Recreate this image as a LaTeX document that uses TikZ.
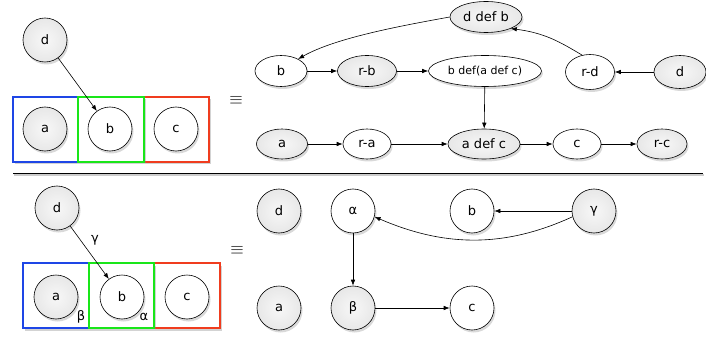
\documentclass[tikz,border=0pt]{standalone}
\usepackage{fontspec}
\setmainfont{DejaVu Sans}
\usetikzlibrary{arrows.meta,shapes.geometric,shadows}

\definecolor{boxblue}{RGB}{30,70,230}
\definecolor{boxgreen}{RGB}{25,230,25}
\definecolor{boxred}{RGB}{240,60,30}

\pgfdeclareradialshading{ballgray}{\pgfpoint{0bp}{0bp}}{%
  color(0bp)=(black!3); color(28bp)=(black!10); color(50bp)=(black!30)}

\tikzset{
  base/.style={draw=black, line width=0.6pt, inner sep=1pt,
    font=\fontsize{13}{15}\selectfont,
    drop shadow={opacity=0.3, shadow xshift=1.5pt, shadow yshift=-2.5pt}},
  gball/.style={base, circle, minimum size=44pt, shading=ballgray},
  wball/.style={base, circle, minimum size=44pt, fill=white},
  gegg/.style={base, ellipse, minimum height=31pt, shading=ballgray},
  wegg/.style={base, ellipse, minimum height=31pt, fill=white},
  frame/.style={line width=1.4pt,
    drop shadow={opacity=0.35, shadow xshift=1.5pt, shadow yshift=-2.5pt}, fill=white},
  link/.style={line width=0.6pt, -{Latex[length=6pt, width=4.5pt]}},
  tag/.style={inner sep=1pt, font=\fontsize{13}{15}\selectfont},
  eqv/.style={font=\LARGE}
}

\begin{document}
\begin{tikzpicture}[x=1pt,y=-1pt]
\useasboundingbox (0,0) rectangle (706,339);

% top left
\draw[frame, draw=boxblue] (13,97) rectangle (78,162);
\draw[frame, draw=boxred] (144,97) rectangle (209,162);
\draw[frame, draw=boxgreen] (78,97) rectangle (144,162);
\node[gball] (d1) at (45,40) {d};
\node[gball] (a1) at (45,129) {a};
\node[wball] (b1) at (110,129) {b};
\node[wball] (c1) at (176,129) {c};
\draw[link] (d1) -- (b1);
\node[eqv] (eq1) at (236,100) {$\equiv$};

% top right
\node[gegg, minimum width=72pt] (tdb) at (486,17) {d def b};
\node[wegg, minimum width=52pt] (tb) at (281,71) {b};
\node[gegg, minimum width=59pt] (trb) at (367,71) {r-b};
\node[wegg, minimum width=113pt, font=\fontsize{11}{13}\selectfont] (tbac) at (485,71) {b def(a def c)};
\node[wegg, minimum width=49pt, minimum height=35pt] (trd) at (590,72) {r-d};
\node[gegg, minimum width=52pt, minimum height=33pt] (td) at (680,72) {d};
\node[gegg, minimum width=51pt, minimum height=30pt] (ta) at (282,144) {a};
\node[wegg, minimum width=48pt, minimum height=30pt] (tra) at (367,144) {r-a};
\node[gegg, minimum width=72pt, minimum height=30pt] (tac) at (484,144) {a def c};
\node[wegg, minimum width=48pt, minimum height=30pt] (tc) at (577,144) {c};
\node[gegg, minimum width=50pt, minimum height=30pt] (trc) at (662,144) {r-c};

\draw[link] (tdb.west) .. controls (400,26) and (335,38) .. (tb.35);
\draw[link] (trd.115) .. controls (560,42) and (545,33) .. (tdb.-25);
\draw[link] (td) -- (trd);
\draw[link] (tb) -- (trb);
\draw[link] (trb) -- (tbac);
\draw[link] (tbac) -- (tac);
\draw[link] (ta) -- (tra);
\draw[link] (tra) -- (tac);
\draw[link] (tac) -- (tc);
\draw[link] (tc) -- (trc);

% separator
\draw[black!20, line width=1.5pt] (14,175) -- (704,175);
\draw[line width=0.8pt] (13,173) -- (703,173);

% bottom left
\draw[frame, draw=boxblue] (23,263) rectangle (89,328);
\draw[frame, draw=boxred] (154,263) rectangle (220,328);
\draw[frame, draw=boxgreen] (89,263) rectangle (154,328);
\node[gball] (d2) at (57,208) {d};
\node[gball] (a2) at (56,297) {a};
\node[wball] (b2) at (122,297) {b};
\node[wball] (c2) at (187,297) {c};
\draw[link] (d2) -- (b2);
\node[tag] (lgam) at (95,240) {γ};
\node[tag] (lbet) at (81,317) {β};
\node[tag] (lalp) at (144,317) {α};
\node[eqv] (eq2) at (237,250) {$\equiv$};

% bottom right
\node[gball] (bd) at (279,211) {d};
\node[wball] (balpha) at (353,211) {α};
\node[wball] (bb) at (472,211) {b};
\node[gball] (bgamma) at (594,211) {γ};
\node[gball] (ba) at (279,308) {a};
\node[gball] (bbeta) at (353,308) {β};
\node[wball] (bc) at (472,308) {c};

\draw[link] (bgamma) -- (bb);
\draw[link] (bgamma.195) .. controls (500,250) and (440,245) .. (balpha.-15);
\draw[link] (balpha) -- (bbeta);
\draw[link] (bbeta) -- (bc);
\end{tikzpicture}
\end{document}
